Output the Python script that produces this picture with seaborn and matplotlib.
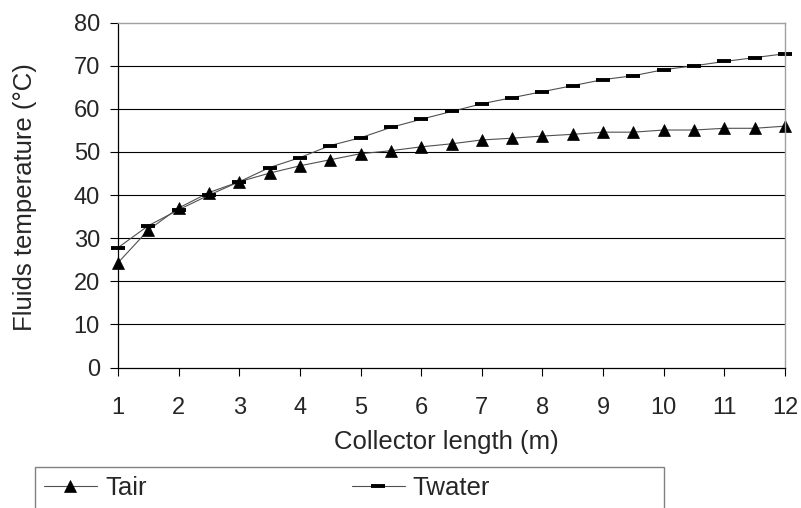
import matplotlib
matplotlib.use("Agg")
import matplotlib.pyplot as plt
import seaborn as sns
import pandas as pd
from matplotlib.patches import Rectangle

sns.set_style("white")
plt.rcParams["font.family"] = ["Liberation Sans", "DejaVu Sans"]

# collector length (m), points every 0.5 m
length = [1, 1.5, 2, 2.5, 3, 3.5, 4, 4.5, 5, 5.5, 6, 6.5,
          7, 7.5, 8, 8.5, 9, 9.5, 10, 10.5, 11, 11.5, 12]
t_air = [24.3, 31.9, 37.0, 40.6, 43.1, 45.1, 46.8, 48.2, 49.6, 50.3, 51.2, 51.9,
         52.8, 53.2, 53.7, 54.1, 54.6, 54.6, 55.1, 55.1, 55.5, 55.5, 56.0]
t_water = [27.8, 32.9, 36.6, 40.0, 43.1, 46.4, 48.7, 51.5, 53.3, 55.7, 57.6, 59.4,
           61.2, 62.6, 64.0, 65.4, 66.8, 67.7, 69.1, 70.0, 71.0, 71.9, 72.8]
x_ticks = list(range(1, 13))
y_ticks = list(range(0, 81, 10))

df = pd.DataFrame({"length": length, "Tair": t_air, "Twater": t_water})

FS = 17      # tick labels
FS_LAB = 18.5  # axis titles and legend
fig = plt.figure(figsize=(8.01, 5.08), dpi=100)
ax = fig.add_axes([118 / 801, 1 - 367.5 / 508, 667 / 801, 344.8 / 508])

for y in y_ticks[1:-1]:
    ax.axhline(y, color="black", lw=0.8, zorder=0)

sns.lineplot(data=df, x="length", y="Tair", ax=ax, color="#505050", lw=0.8,
             marker="^", markersize=9, markerfacecolor="black",
             markeredgecolor="black", markeredgewidth=0.5, clip_on=False,
             label="Tair")
sns.lineplot(data=df, x="length", y="Twater", ax=ax, color="#505050", lw=0.8,
             marker="_", markersize=9.5, markeredgecolor="black",
             markeredgewidth=2.8, clip_on=False, label="Twater")

ax.set_xlim(1, 12)
ax.set_ylim(0, 80)
ax.set_xticks(x_ticks)
ax.set_yticks(y_ticks)
ax.tick_params(axis="both", labelsize=FS, direction="out", length=6,
               width=0.8, color="black", left=True, bottom=True)
ax.tick_params(axis="y", pad=7)
ax.tick_params(axis="x", pad=15)
ax.set_xlabel("Collector length (m)", fontsize=FS_LAB, va="center")
ax.set_ylabel("Fluids temperature (°C)", fontsize=FS_LAB, va="center")
ax.xaxis.set_label_coords((446.5 - 118) / 667, (367.5 - 441.7) / 344.8)
ax.yaxis.set_label_coords((25 - 118) / 667, (367.5 - 197.5) / 344.8)

for side in ["left", "bottom"]:
    ax.spines[side].set_color("black")
    ax.spines[side].set_linewidth(0.9)
for side in ["top", "right"]:
    ax.spines[side].set_color("#a0a0a0")
    ax.spines[side].set_linewidth(1.0)

handles, labels = ax.get_legend_handles_labels()
ax.get_legend().remove()

fig.patches.append(Rectangle((35 / 801, -0.2), 629 / 801, 0.2 + 1 - 467.3 / 508,
                             transform=fig.transFigure, fill=False,
                             edgecolor="#808080", lw=1.0))
fig.legend(handles, labels, loc="center left", bbox_to_anchor=(44 / 801, 1 - 488 / 508),
           ncol=2, frameon=False, fontsize=FS_LAB, handlelength=2.05,
           handletextpad=0.32, columnspacing=8.0, borderpad=0, borderaxespad=0)

fig.savefig("out.png", dpi=100)
